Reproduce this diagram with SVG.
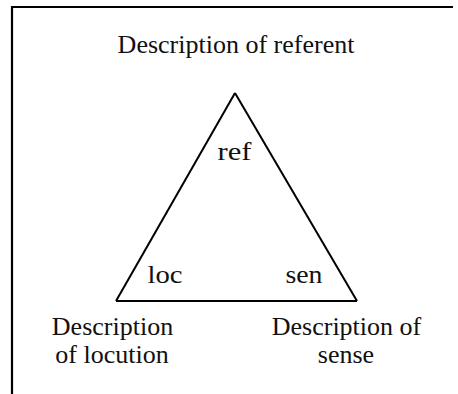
<svg xmlns="http://www.w3.org/2000/svg" width="458" height="394" viewBox="0 0 458 394">
  <style>
    .t { font-family: 'Liberation Serif', 'Times New Roman', serif; font-size: 26px; fill: #111; text-anchor: middle; }
    .frame { fill: none; stroke: #000; stroke-width: 2.2; }
    .edge { fill: none; stroke: #000; stroke-width: 2; }
  </style>
  <rect width="458" height="394" fill="#fff"/>
  <path class="frame" d="M12,394 V7 H453"/>
  <g id="connectors">
    <path class="edge" d="M235,93 L357,301"/>
    <path class="edge" d="M357,301 L116,301"/>
    <path class="edge" d="M116,301 L235,93"/>
  </g>
  <g id="node-referent">
    <text class="t" x="236" y="53">Description of referent</text>
    <text class="t" x="234.5" y="160" textLength="34" lengthAdjust="spacingAndGlyphs">ref</text>
  </g>
  <g id="node-locution">
    <text class="t" x="165" y="283" textLength="35" lengthAdjust="spacingAndGlyphs">loc</text>
    <text class="t" x="112.5" y="335">Description</text>
    <text class="t" x="112" y="363">of locution</text>
  </g>
  <g id="node-sense">
    <text class="t" x="304" y="283" textLength="37" lengthAdjust="spacingAndGlyphs">sen</text>
    <text class="t" x="346.5" y="335">Description of</text>
    <text class="t" x="346" y="363">sense</text>
  </g>
</svg>
